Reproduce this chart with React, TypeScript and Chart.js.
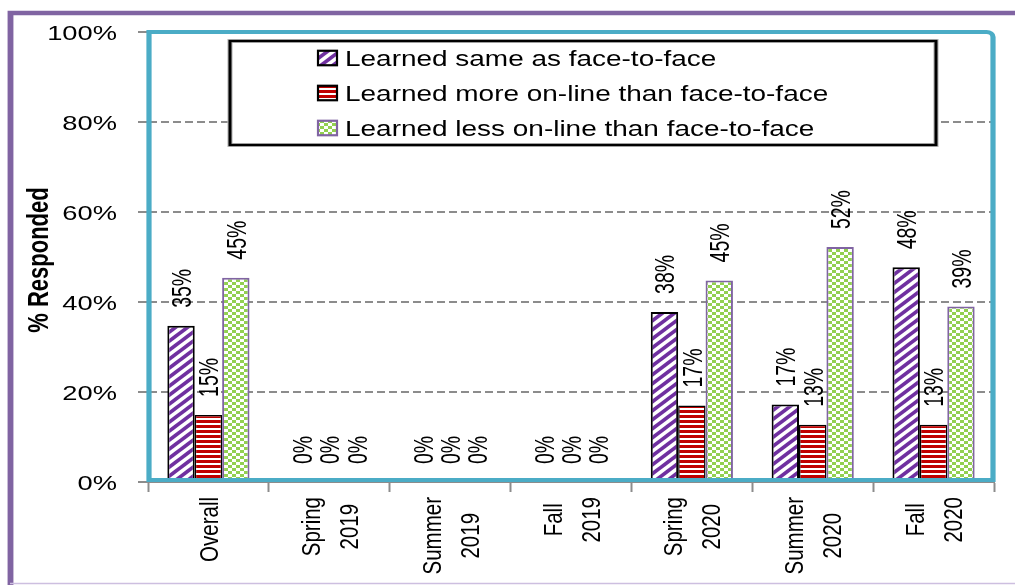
import React, { useEffect, useRef } from 'react';
import { Chart, registerables } from 'chart.js';

Chart.register(...registerables);

// ---------- data ----------
const categories: string[][] = [
  ['Overall'],
  ['Spring', '2019'],
  ['Summer', '2019'],
  ['Fall', '2019'],
  ['Spring', '2020'],
  ['Summer', '2020'],
  ['Fall', '2020'],
];
const seriesNames = [
  'Learned same as face-to-face',
  'Learned more on-line than face-to-face',
  'Learned less on-line than face-to-face',
];
const sameValues = [34.7, 0, 0, 0, 37.8, 17.2, 47.7];
const moreValues = [14.9, 0, 0, 0, 17.0, 12.7, 12.7];
const lessValues = [45.4, 0, 0, 0, 44.8, 52.2, 39.0];
const yTickValues = [0, 20, 40, 60, 80, 100];
const yTitle = '% Responded';

// ---------- style ----------
const SX = 1.3; // horizontal stretch of the original picture
const FONT = "'Liberation Sans', Arial, sans-serif";
const PURPLE = '#7030A0';
const RED = '#C00000';
const GREEN = '#92D050';
const FRAME_PURPLE = '#8064A2';
const TEAL = '#4BACC6';
const GRID = '#8c8c8c';

function makePattern(ctx: CanvasRenderingContext2D, kind: string): CanvasPattern | string {
  const c = document.createElement('canvas');
  const p = c.getContext('2d')!;
  if (kind === 'diag') {
    const W = 12, H = 9;
    c.width = W; c.height = H;
    p.fillStyle = '#fff';
    p.fillRect(0, 0, W, H);
    p.strokeStyle = PURPLE;
    p.lineWidth = 3.7;
    for (let k = -2; k <= 2; k++) {
      p.beginPath();
      const x0 = -W, x1 = 2 * W;
      p.moveTo(x0, H - (x0 * H) / W + k * H);
      p.lineTo(x1, H - (x1 * H) / W + k * H);
      p.stroke();
    }
  } else if (kind === 'horiz') {
    c.width = 4; c.height = 5;
    p.fillStyle = '#fff';
    p.fillRect(0, 0, 4, 5);
    p.fillStyle = RED;
    p.fillRect(0, 0, 4, 3);
  } else {
    const cw = 4, ch = 3;
    c.width = cw * 2; c.height = ch * 2;
    p.fillStyle = '#fff';
    p.fillRect(0, 0, cw * 2, ch * 2);
    p.fillStyle = GREEN;
    p.fillRect(0, 0, cw, ch);
    p.fillRect(cw, ch, cw, ch);
  }
  return ctx.createPattern(c, 'repeat') || '#fff';
}

function drawText(
  ctx: CanvasRenderingContext2D,
  s: string,
  x: number,
  y: number,
  size: number,
  opts: { bold?: boolean; rotate?: boolean; align?: CanvasTextAlign; sx?: number } = {}
) {
  ctx.save();
  ctx.translate(x, y);
  ctx.scale(opts.sx || SX, 1);
  if (opts.rotate) ctx.rotate(-Math.PI / 2);
  ctx.font = `${opts.bold ? 'bold ' : ''}${size}px ${FONT}`;
  ctx.textAlign = opts.align || 'left';
  ctx.textBaseline = 'alphabetic';
  ctx.fillStyle = '#000';
  ctx.fillText(s, 0, size * 0.358);
  ctx.restore();
}

export default function App() {
  const ref = useRef<HTMLCanvasElement | null>(null);

  useEffect(() => {
    const canvas = ref.current!;
    const ctx0 = canvas.getContext('2d')!;
    const patterns = [makePattern(ctx0, 'diag'), makePattern(ctx0, 'horiz'), makePattern(ctx0, 'check')];
    const borders = ['#000000', '#000000', FRAME_PURPLE];
    const borderWidths = [2, 1.5, 2];

    const decor = {
      id: 'decor',
      afterDraw(chart: any) {
        const ctx: CanvasRenderingContext2D = chart.ctx;
        const ca = chart.chartArea;
        const xs = chart.scales.x;
        const ys = chart.scales.y;

        // teal plot frame (drawn in stretched space so vertical strokes are thicker)
        ctx.save();
        ctx.scale(SX, 1);
        {
          const L = (ca.left + 1) / SX, T = ca.top, R = (ca.right - 1) / SX, B = ca.bottom - 2, r = 5;
          ctx.strokeStyle = TEAL;
          ctx.lineWidth = 4;
          ctx.beginPath();
          ctx.moveTo(L, B);
          ctx.lineTo(L, T);
          ctx.lineTo(R - r, T);
          ctx.arcTo(R, T, R, T + r, r);
          ctx.lineTo(R, B);
          ctx.closePath();
          ctx.stroke();
        }
        // outer purple frame
        ctx.strokeStyle = FRAME_PURPLE;
        ctx.lineWidth = 4.5;
        ctx.strokeRect(10.5 / SX, 13, 1200, 1000);
        ctx.restore();
        ctx.save();
        ctx.strokeStyle = '#cdbfe0';
        ctx.lineWidth = 1.5;
        ctx.beginPath();
        ctx.moveTo(10, 583.5);
        ctx.lineTo(chart.width, 583.5);
        ctx.stroke();
        ctx.restore();

        // legend box
        const LL = ca.left + 82, LT = ca.top + 9, LR = ca.right - 58, LB = ca.top + 113;
        ctx.save();
        ctx.fillStyle = '#fff';
        ctx.fillRect(LL, LT, LR - LL, LB - LT);
        ctx.scale(SX, 1);
        ctx.strokeStyle = '#bbbbbb';
        ctx.lineWidth = 4;
        ctx.strokeRect(LL / SX, LT, (LR - LL) / SX, LB - LT);
        ctx.strokeStyle = '#000';
        ctx.lineWidth = 2.3;
        ctx.strokeRect(LL / SX, LT, (LR - LL) / SX, LB - LT);
        ctx.restore();
        seriesNames.forEach((name, i) => {
          const cy = LT + 17 + i * 35;
          const sx = LL + 88, sw = 19, sh = 14.5;
          ctx.save();
          ctx.fillStyle = patterns[i] as any;
          ctx.fillRect(sx, cy - sh / 2, sw, sh);
          ctx.strokeStyle = borders[i];
          ctx.lineWidth = 2.2;
          ctx.strokeRect(sx, cy - sh / 2, sw, sh);
          ctx.restore();
          drawText(ctx, name, LL + 115, cy, 21.5);
        });

        // y tick labels
        yTickValues.forEach((v) => {
          drawText(ctx, `${v}%`, ca.left - 31, ys.getPixelForValue(v), 21, { align: 'right' });
        });

        // y title
        drawText(ctx, yTitle, 38, (ca.top + ca.bottom) / 2 + 3, 22, { bold: true, rotate: true, align: 'center' });

        // x labels
        const LS = 38;
        categories.forEach((lines, i) => {
          const cx = xs.getPixelForValue(i);
          ctx.save();
          ctx.font = `20.5px ${FONT}`;
          const maxLen = Math.max(...lines.map((l) => ctx.measureText(l).width));
          ctx.restore();
          const cy = ca.bottom + 15 + maxLen / 2;
          lines.forEach((line, k) => {
            const px = cx + (k - (lines.length - 1) / 2) * LS;
            drawText(ctx, line, px, cy, 20.5, { rotate: true, align: 'center' });
          });
        });

        // data labels
        chart.data.datasets.forEach((ds: any, i: number) => {
          const meta = chart.getDatasetMeta(i);
          meta.data.forEach((el: any, j: number) => {
            const v = ds.data[j];
            drawText(ctx, `${Math.round(v)}%`, el.x, el.y - 18, 19.5, { rotate: true, align: 'left', sx: 1.42 });
          });
        });
      },
    };

    const chart = new Chart(canvas, {
      type: 'bar',
      data: {
        labels: categories,
        datasets: [sameValues, moreValues, lessValues].map((vals, i) => ({
          label: seriesNames[i],
          data: vals,
          backgroundColor: patterns[i] as any,
          borderColor: borders[i],
          borderWidth: borderWidths[i],
          categoryPercentage: 0.68,
          barPercentage: 1,
        })),
      },
      options: {
        animation: false,
        responsive: true,
        maintainAspectRatio: false,
        events: [],
        layout: { padding: { left: 138, top: 32, right: 21, bottom: 93 } },
        plugins: { legend: { display: false }, tooltip: { enabled: false } },
        scales: {
          x: {
            grid: {
              display: true,
              drawOnChartArea: false,
              drawTicks: true,
              tickLength: 10,
              tickColor: GRID,
              tickWidth: 2,
              offset: true,
            },
            border: { display: true, color: GRID, width: 2 },
            ticks: { display: false },
            afterFit: (s: any) => {
              s.height = 10;
            },
          },
          y: {
            min: 0,
            max: 100,
            ticks: { stepSize: 20, display: false },
            grid: {
              color: (c: any) =>
                c.tick && (c.tick.value === 0 || c.tick.value === 100) ? 'rgba(0,0,0,0)' : GRID,
              lineWidth: 2,
              tickLength: 10,
              tickColor: GRID,
              tickWidth: 2,
            },
            border: { display: true, color: GRID, width: 2, dash: [8, 4] },
            afterFit: (s: any) => {
              s.width = 10;
            },
          },
        } as any,
      },
      plugins: [decor],
    });
    return () => chart.destroy();
  }, []);

  return (
    <div style={{ position: 'fixed', left: 0, top: 0, width: 1015, height: 585, background: '#fff' }}>
      <canvas ref={ref} />
    </div>
  );
}
